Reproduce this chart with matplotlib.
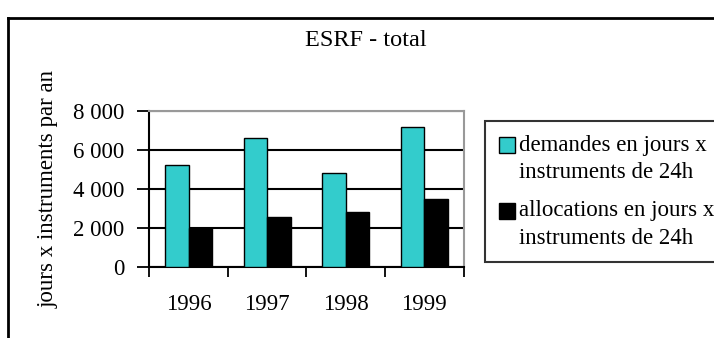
import numpy as np
import matplotlib
matplotlib.use("Agg")
import matplotlib.pyplot as plt
from matplotlib.patches import Patch
from matplotlib.lines import Line2D

plt.rcParams['font.family'] = ['Liberation Serif', 'DejaVu Serif']

years = ['1996', '1997', '1998', '1999']
demandes = [5200, 6600, 4800, 7200]
allocations = [2000, 2550, 2800, 3500]
yticks = [0, 2000, 4000, 6000, 8000]
ytick_labels = ['0', '2 000', '4 000', '6 000', '8 000']

W, H = 714, 338
fig = plt.figure(figsize=(W / 100, H / 100), dpi=100)
ax = fig.add_axes([149.3 / W, 1 - 266.7 / H, (463.5 - 149.3) / W, (266.7 - 111) / H])

fs = 16.5
x = np.arange(len(years))
bw = 0.3
ax.bar(x - bw / 2, demandes, bw, color='#33CCCC', edgecolor='black', linewidth=1.0, zorder=3)
ax.bar(x + bw / 2, allocations, bw, color='black', edgecolor='black', linewidth=1.0, zorder=3)

ax.set_xlim(-0.5, len(years) - 0.5)
ax.set_ylim(0, 8000)
ax.set_yticks(yticks)
ax.set_yticklabels(ytick_labels, fontsize=fs)
ax.set_xticks(np.arange(len(years) + 1) - 0.5)
ax.set_xticklabels([])
ax.set_xticks(x, minor=True)
ax.set_xticklabels(years, minor=True, fontsize=fs)
ax.tick_params(axis='x', which='minor', length=0, pad=20)
ax.tick_params(axis='x', which='major', direction='out', length=7, width=1.3)
ax.tick_params(axis='y', direction='out', length=9, width=1.3, pad=9)

ax.set_axisbelow(True)
ax.yaxis.grid(True, color='black', linewidth=1.5)
ax.spines['left'].set_linewidth(1.5)
ax.spines['bottom'].set_linewidth(1.5)
ax.spines['top'].set_color('#999999')
ax.spines['right'].set_color('#999999')
ax.spines['top'].set_linewidth(1.5)
ax.spines['right'].set_linewidth(1.5)

ax.set_ylabel('jours x instruments par an', fontsize=fs, labelpad=10)
fig.text(366 / W, 1 - 40 / H, 'ESRF - total', fontsize=17.5, ha='center', va='center')

handles = [Patch(facecolor='#33CCCC', edgecolor='black', linewidth=1.0),
           Patch(facecolor='black', edgecolor='black', linewidth=1.0)]
labels = ['demandes en jours x\ninstruments de 24h',
          'allocations en jours x\ninstruments de 24h']
leg = fig.legend(handles, labels, loc='upper left',
                 bbox_to_anchor=(485 / W, 1 - 121 / H), bbox_transform=fig.transFigure,
                 fontsize=fs, frameon=True, fancybox=False, handlelength=0.7,
                 handleheight=0.7, handletextpad=0.2, labelspacing=0.75,
                 borderpad=0.6, borderaxespad=0)
leg.get_frame().set_edgecolor('black')
leg.get_frame().set_linewidth(1.5)
for t in leg.get_texts():
    t.set_linespacing(1.4)
# put the swatch next to the first line of each label
for h in leg.legend_handles:
    h.set_y(h.get_y() + 10)

# outer chart frame
fig.add_artist(Line2D([8 / W, 1.0], [1 - 18 / H, 1 - 18 / H], color='black', linewidth=2))
fig.add_artist(Line2D([8 / W, 8 / W], [0, 1 - 18 / H], color='black', linewidth=2))

fig.savefig('out.png', dpi=100)
